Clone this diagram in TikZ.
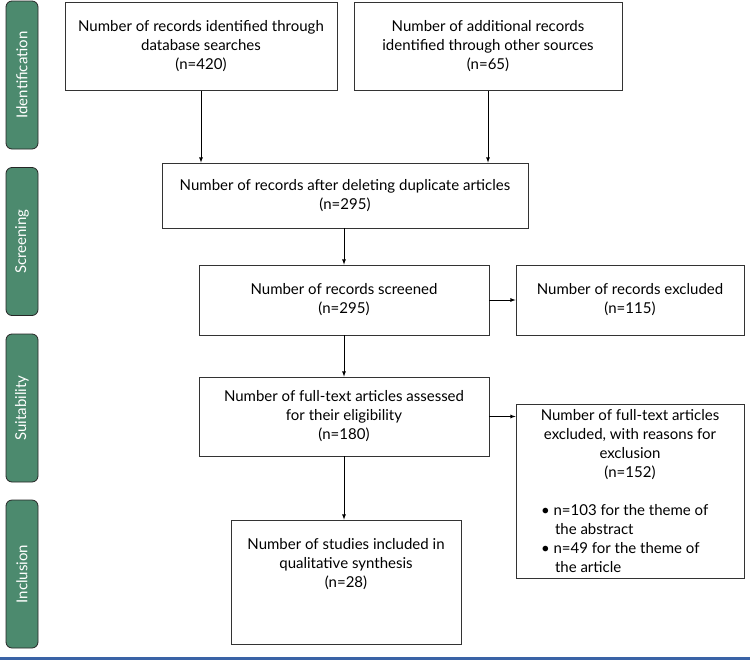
\documentclass[tikz,border=0pt]{standalone}
\usepackage{fontspec}
\setmainfont{Lato}
\definecolor{phasegreen}{RGB}{76,138,110}
\definecolor{rulesblue}{RGB}{58,99,166}
\newcommand{\bulletline}[1]{\makebox[178pt][l]{#1}}

\begin{document}
\begin{tikzpicture}[x=1pt, y=-1pt,
record/.style={
        draw=black!80,
        line width=0.8pt,
        align=center,
        inner sep=0pt,
        font=\fontsize{15}{19}\selectfont,
    },
   phase/.style = {
   draw=black!85,
   fill=phasegreen,
   rounded corners=6pt,
   rotate=90,
   minimum width=148pt,
   minimum height=32pt,
   line width=0.8pt,
   text=white,
   font=\fontsize{15}{19}\selectfont,
   },
 ]
\useasboundingbox (0,0) rectangle (750,662);

% phases
\node[phase] (identification) at (22,75) {Identification};
\node[phase] (screening) at (22,241.5) {Screening};
\node[phase] (suitability) at (22,408) {Suitability};
\node[phase] (inclusion) at (22,574) {Inclusion};

\node[record, minimum width=272pt, minimum height=88pt] (dbrecords) at (201,46.5) {Number of records identified through\\ database searches\\ (n=420)};
\node[record, minimum width=268pt, minimum height=88pt] (otherrecords) at (488,46.5) {Number of additional records\\ identified through other sources\\ (n=65)};

\node[record, minimum width=366pt, minimum height=65pt] (dedup) at (345,195.5) {Number of records after deleting duplicate articles\\ (n=295)};
\draw[line width = 0.8pt, -latex] (dbrecords.south) -- (dbrecords.south |- dedup.north);
\draw[line width = 0.8pt, -latex] (otherrecords.south) -- (otherrecords.south |- dedup.north);

\node[record, minimum width=290pt, minimum height=70pt] (screened) at (344,300) {Number of records screened\\ (n=295)};
\node[record, minimum width=228pt, minimum height=70pt] (excluded) at (630,300) {Number of records excluded\\ (n=115)};
\draw[line width = 0.8pt, -latex] (dedup.south -| screened.north) -- (screened.north);
\draw[line width = 0.8pt, -latex] (screened.east) -- (excluded.west);

\node[record, minimum width=290pt, minimum height=79pt] (fulltext) at (344,416.5) {Number of full-text articles assessed\\ for their eligibility\\ (n=180)};
\node[record, minimum width=228pt, minimum height=174pt] (ftexcluded) at (630,491) {Number of full-text articles\\ excluded, with reasons for\\ exclusion\\ (n=152)\\ \mbox{}\\
 \bulletline{\textbullet\ n=103 for the theme of}\\ \bulletline{\hspace{14pt}the abstract}\\
 \bulletline{\textbullet\ n=49 for the theme of}\\ \bulletline{\hspace{14pt}the article}};
\draw[line width = 0.8pt, -latex] (screened.south) -- (fulltext.north);
\draw[line width = 0.8pt, -latex] (fulltext.east) -- (fulltext.east -| ftexcluded.west);

% text sits above the middle of this box
\node[record, minimum width=230pt, minimum height=124pt] (included) at (346,582) {Number of studies included in\\ qualitative synthesis\\ (n=28)\\[19pt]\mbox{}};
\draw[line width = 0.8pt, -latex] (fulltext.south) -- (fulltext.south |- included.north);

\draw[rulesblue, line width=3pt] (0,658) -- (750,658);
\end{tikzpicture}
\end{document}
